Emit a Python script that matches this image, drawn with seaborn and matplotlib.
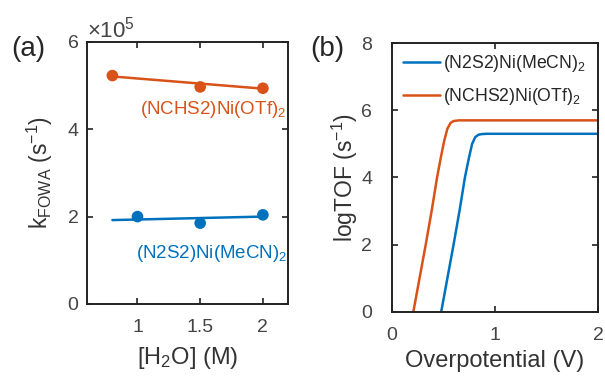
import numpy as np
import matplotlib
matplotlib.use("Agg")
import matplotlib.pyplot as plt
import matplotlib.ticker as mticker
import seaborn as sns

# panel (a): k_FOWA vs [H2O]
h2o_orange = [0.8, 1.5, 2.0]
k_orange = [5.23e5, 4.97e5, 4.94e5]
h2o_blue = [1.0, 1.5, 2.0]
k_blue = [2.00e5, 1.85e5, 2.04e5]
fit_x = [0.8, 2.0]
fit_orange = [5.21e5, 4.93e5]
fit_blue = [1.92e5, 2.00e5]

# panel (b): logTOF vs overpotential
eta_orange = [0.21, 0.27, 0.33, 0.39, 0.44, 0.48, 0.51, 0.54, 0.57, 0.60, 0.65, 2.0]
tof_orange = [0.0, 1.0, 2.0, 3.05, 4.0, 4.65, 5.1, 5.45, 5.62, 5.68, 5.70, 5.70]
eta_blue = [0.48, 0.54, 0.60, 0.66, 0.71, 0.75, 0.78, 0.81, 0.84, 0.87, 0.92, 2.0]
tof_blue = [0.0, 1.0, 2.0, 3.05, 4.0, 4.6, 5.0, 5.2, 5.27, 5.29, 5.30, 5.30]

name_blue = "(N2S2)Ni(MeCN)$_2$"
name_orange = "(NCHS2)Ni(OTf)$_2$"
c_blue = "#0072BD"
c_orange = "#D95319"

sns.set_style("ticks")
plt.rcParams["font.family"] = ["Liberation Sans", "DejaVu Sans"]
plt.rcParams["mathtext.fontset"] = "custom"
plt.rcParams["mathtext.rm"] = "Liberation Sans"
plt.rcParams["mathtext.it"] = "Liberation Sans"
plt.rcParams["mathtext.default"] = "regular"

fig = plt.figure(figsize=(6.05, 3.78), dpi=100)
ax1 = fig.add_axes([0.1443, 0.196, 0.3317, 0.693])
ax2 = fig.add_axes([0.6474, 0.175, 0.3410, 0.711])

# (a)
sns.lineplot(x=fit_x, y=fit_orange, ax=ax1, color=c_orange, lw=1.8)
sns.lineplot(x=fit_x, y=fit_blue, ax=ax1, color=c_blue, lw=1.8)
sns.scatterplot(x=h2o_orange, y=k_orange, ax=ax1, color=c_orange, s=70, edgecolor="none", zorder=3)
sns.scatterplot(x=h2o_blue, y=k_blue, ax=ax1, color=c_blue, s=70, edgecolor="none", zorder=3)
ax1.set_xlim(0.6, 2.2)
ax1.set_ylim(0, 6e5)
ax1.set_xticks([1, 1.5, 2])
ax1.set_xticklabels(["1", "1.5", "2"])
ax1.set_yticks([0, 2e5, 4e5, 6e5])
fmt = mticker.ScalarFormatter(useMathText=True)
fmt.set_powerlimits((0, 0))
ax1.yaxis.set_major_formatter(fmt)
ax1.yaxis.get_offset_text().set_fontsize(16)
ax1.yaxis.get_offset_text().set_color("#444444")
ax1.set_xlabel("[H$_2$O] (M)", fontsize=17, color="#333333", labelpad=6)
ax1.set_ylabel("k$_{FOWA}$ (s$^{-1}$)", fontsize=16.5, color="#333333", labelpad=8)
ax1.text(1.02, 4.35e5, name_orange, color=c_orange, fontsize=13.5, va="baseline")
ax1.text(0.99, 1.05e5, name_blue, color=c_blue, fontsize=13.5, va="baseline")
fig.text(0.018, 0.870, "(a)", fontsize=20, va="center")

# (b)
sns.lineplot(x=eta_blue, y=tof_blue, ax=ax2, color=c_blue, lw=1.8, label=name_blue, sort=False)
sns.lineplot(x=eta_orange, y=tof_orange, ax=ax2, color=c_orange, lw=1.8, label=name_orange, sort=False)
ax2.set_xlim(0, 2)
ax2.set_ylim(0, 8)
ax2.set_xticks([0, 1, 2])
ax2.set_yticks([0, 2, 4, 6, 8])
ax2.set_xlabel("Overpotential (V)", fontsize=17, color="#333333", labelpad=4)
ax2.set_ylabel("logTOF (s$^{-1}$)", fontsize=16.5, color="#333333", labelpad=1)
ax2.legend(loc="upper left", frameon=False, fontsize=12.7, handlelength=2.1,
           handletextpad=0.15, labelspacing=0.7, borderaxespad=0, borderpad=0,
           bbox_to_anchor=(0.055, 0.963))
fig.text(0.512, 0.870, "(b)", fontsize=20, va="center")

for ax in (ax1, ax2):
    ax.tick_params(direction="in", top=True, right=True, labelsize=14,
                   length=4, width=1.2, colors="#222222", labelcolor="#444444")
    ax.tick_params(axis="x", pad=11)
    for sp in ax.spines.values():
        sp.set_visible(True)
        sp.set_linewidth(1.4)
        sp.set_color("#222222")
ax1.tick_params(axis="y", pad=6)
ax2.tick_params(axis="y", pad=14)

fig.savefig("out.png", dpi=100)
